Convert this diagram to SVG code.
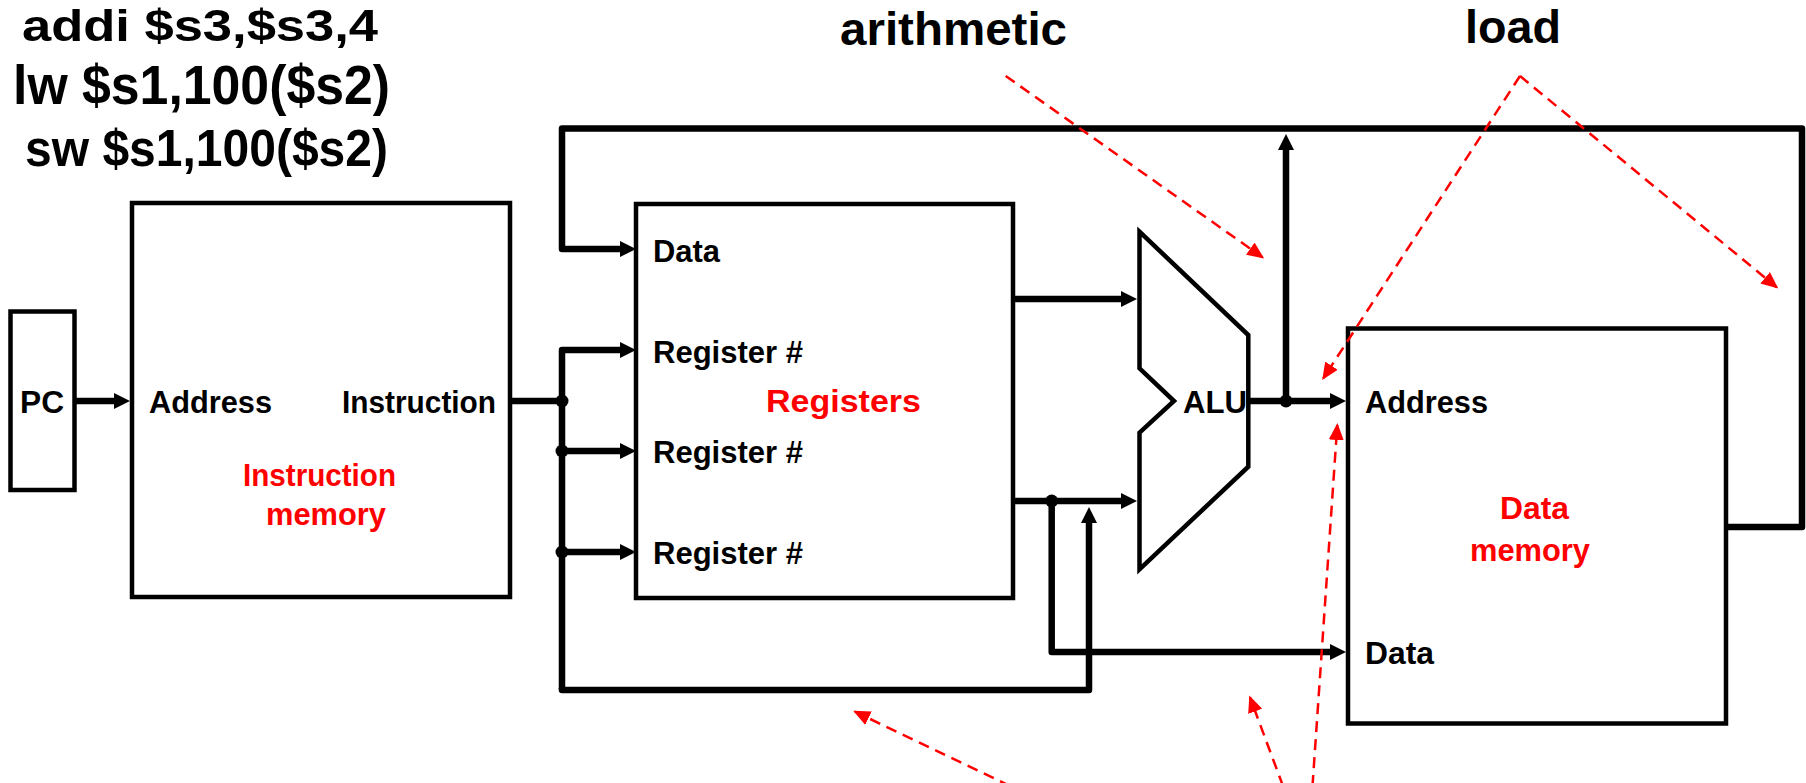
<svg xmlns="http://www.w3.org/2000/svg" width="1806" height="783" viewBox="0 0 1806 783">
  <style>
    .box { fill: #fff; stroke: #000; stroke-width: 4.5; }
    .alu { fill: #fff; stroke: #000; stroke-width: 4.5; stroke-linejoin: miter; }
    .wire { fill: none; stroke: #000; stroke-width: 6.5; stroke-linejoin: round; }
    .note { fill: none; stroke: #f00; stroke-width: 2.5; stroke-dasharray: 11 7; }
    .lbl { font-family: "Liberation Sans", Arial, sans-serif; font-weight: bold; font-size: 32px; fill: #000; }
    .red { font-family: "Liberation Sans", Arial, sans-serif; font-weight: bold; font-size: 32px; fill: #f00; }
    .big { font-family: "Liberation Sans", Arial, sans-serif; font-weight: bold; fill: #000; }
  </style>
  <defs>
    <marker id="arrow" viewBox="0 0 16 16" markerWidth="16" markerHeight="16" refX="4" refY="8" orient="auto" markerUnits="userSpaceOnUse">
      <path d="M0,0 L16,8 L0,16 z" fill="#000"/>
    </marker>
    <marker id="redArrow" viewBox="0 0 17 15" markerWidth="17" markerHeight="15" refX="15" refY="7.5" orient="auto" markerUnits="userSpaceOnUse">
      <path d="M0,0 L17,7.5 L0,15 z" fill="#f00"/>
    </marker>
  </defs>

  <!-- instruction examples -->
  <g id="code">
    <text class="big" x="22" y="40.5" font-size="44" textLength="356" lengthAdjust="spacingAndGlyphs">addi $s3,$s3,4</text>
    <text class="big" x="13" y="104" font-size="56" textLength="377" lengthAdjust="spacingAndGlyphs">lw $s1,100($s2)</text>
    <text class="big" x="25" y="166" font-size="52" textLength="363" lengthAdjust="spacingAndGlyphs">sw $s1,100($s2)</text>
  </g>

  <g id="captions">
    <text class="big" x="840" y="45" font-size="47" textLength="227" lengthAdjust="spacingAndGlyphs">arithmetic</text>
    <text class="big" x="1465" y="43" font-size="47" textLength="96" lengthAdjust="spacingAndGlyphs">load</text>
  </g>

  <!-- datapath wires -->
  <g id="connectors">
    <line class="wire" x1="74" y1="401" x2="118" y2="401" marker-end="url(#arrow)"/>
    <line class="wire" x1="510" y1="401" x2="562" y2="401"/>
    <path class="wire" d="M562,690 L562,350 L624,350" marker-end="url(#arrow)"/>
    <line class="wire" x1="562" y1="451" x2="624" y2="451" marker-end="url(#arrow)"/>
    <line class="wire" x1="562" y1="552" x2="624" y2="552" marker-end="url(#arrow)"/>
    <path class="wire" d="M562,688 L562,690 L1089,690 L1089,519" marker-end="url(#arrow)"/>
    <path class="wire" d="M1727,527 L1802,527 L1802,128.5 L562,128.5 L562,249 L624,249" marker-end="url(#arrow)"/>
    <line class="wire" x1="1286" y1="401" x2="1286" y2="146" marker-end="url(#arrow)"/>
    <line class="wire" x1="1013" y1="299" x2="1125" y2="299" marker-end="url(#arrow)"/>
    <line class="wire" x1="1013" y1="501" x2="1125" y2="501" marker-end="url(#arrow)"/>
    <path class="wire" d="M1051.7,501 L1051.7,652 L1334,652" marker-end="url(#arrow)"/>
    <line class="wire" x1="1248" y1="401" x2="1334" y2="401" marker-end="url(#arrow)"/>
    <circle cx="562" cy="401" r="6.5"/>
    <circle cx="562" cy="451" r="6.5"/>
    <circle cx="562" cy="552" r="6.5"/>
    <circle cx="1051.7" cy="501" r="6.5"/>
    <circle cx="1286" cy="401" r="6.5"/>
  </g>

  <g id="pc">
    <rect class="box" x="10.5" y="311.5" width="64" height="178.5"/>
    <text class="lbl" x="20" y="413" textLength="44" lengthAdjust="spacingAndGlyphs">PC</text>
  </g>

  <g id="instruction-memory">
    <rect class="box" x="132" y="203" width="378" height="394"/>
    <text class="lbl" x="149" y="413" textLength="123" lengthAdjust="spacingAndGlyphs">Address</text>
    <text class="lbl" x="342" y="413" textLength="154" lengthAdjust="spacingAndGlyphs">Instruction</text>
    <text class="red" x="243" y="486" textLength="153" lengthAdjust="spacingAndGlyphs">Instruction</text>
    <text class="red" x="266" y="525" textLength="120" lengthAdjust="spacingAndGlyphs">memory</text>
  </g>

  <g id="registers">
    <rect class="box" x="636" y="204" width="377" height="394"/>
    <text class="lbl" x="653" y="262" textLength="67" lengthAdjust="spacingAndGlyphs">Data</text>
    <text class="lbl" x="653" y="363" textLength="150" lengthAdjust="spacingAndGlyphs">Register #</text>
    <text class="lbl" x="653" y="463" textLength="150" lengthAdjust="spacingAndGlyphs">Register #</text>
    <text class="lbl" x="653" y="564" textLength="150" lengthAdjust="spacingAndGlyphs">Register #</text>
    <text class="red" x="766" y="412" textLength="155" lengthAdjust="spacingAndGlyphs">Registers</text>
  </g>

  <g id="alu">
    <polygon class="alu" points="1139.5,231.7 1248.3,335 1248.3,466.7 1139.5,569.3 1139.5,432.7 1174,401 1139.5,368.3"/>
    <text class="lbl" x="1183" y="413" textLength="64" lengthAdjust="spacingAndGlyphs">ALU</text>
  </g>

  <g id="data-memory">
    <rect class="box" x="1348" y="328.5" width="378" height="395"/>
    <text class="lbl" x="1365" y="413" textLength="123" lengthAdjust="spacingAndGlyphs">Address</text>
    <text class="lbl" x="1365" y="664" textLength="69" lengthAdjust="spacingAndGlyphs">Data</text>
    <text class="red" x="1500" y="519" textLength="69" lengthAdjust="spacingAndGlyphs">Data</text>
    <text class="red" x="1470" y="561" textLength="120" lengthAdjust="spacingAndGlyphs">memory</text>
  </g>

  <!-- red dashed pointers -->
  <g id="pointers">
    <line class="note" x1="1005.7" y1="76" x2="1262.5" y2="257.3" marker-end="url(#redArrow)"/>
    <line class="note" x1="1520" y1="76" x2="1323.3" y2="378.3" marker-end="url(#redArrow)"/>
    <line class="note" x1="1520" y1="76" x2="1776.7" y2="287.3" marker-end="url(#redArrow)"/>
    <line class="note" x1="1010" y1="786" x2="855" y2="711.7" marker-end="url(#redArrow)"/>
    <line class="note" x1="1283" y1="786" x2="1250" y2="697.3" marker-end="url(#redArrow)"/>
    <line class="note" x1="1312.5" y1="786" x2="1337.3" y2="425" marker-end="url(#redArrow)"/>
  </g>
</svg>
